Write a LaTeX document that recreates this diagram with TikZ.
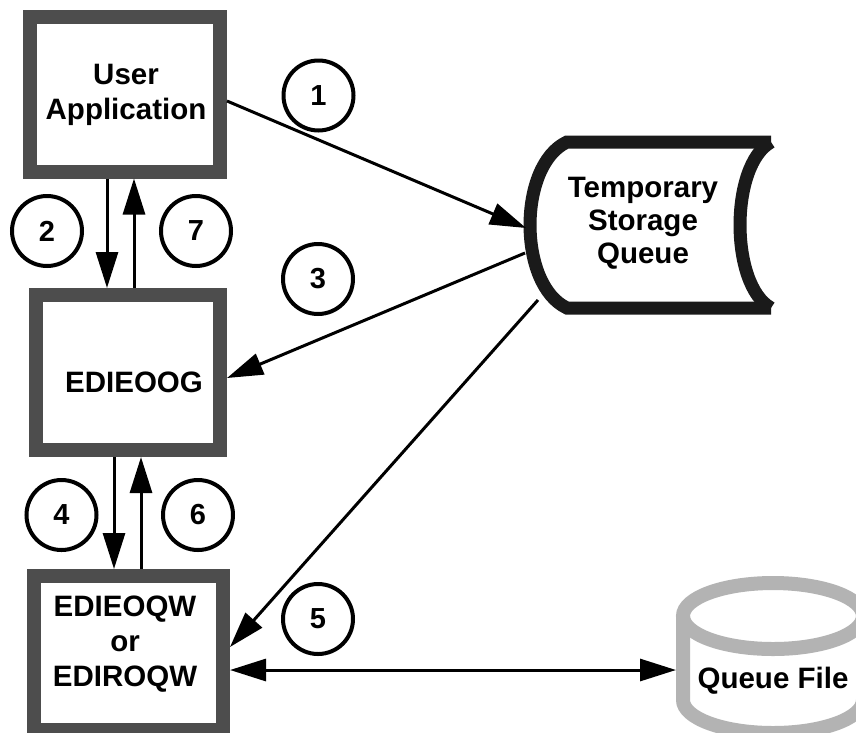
\documentclass[tikz,border=0pt]{standalone}
\usepackage{fontspec}
\setmainfont{Liberation Sans}
\usetikzlibrary{arrows.meta,calc}
\definecolor{boxgray}{HTML}{4D4D4D}
\definecolor{tsqblack}{HTML}{1A1A1A}
\definecolor{cylgray}{HTML}{B3B3B3}
\begin{document}
\begin{tikzpicture}[x=1pt,y=-1pt,
  proc/.style={draw=boxgray,line width=14pt,fill=white,inner sep=0pt},
  lbl/.style={font=\fontsize{29.5}{35}\selectfont\bfseries,align=center,inner sep=0pt},
  num/.style={circle,draw=black,line width=4pt,minimum size=70pt,inner sep=0pt,font=\fontsize{29}{32}\selectfont\bfseries},
  arr/.style={line width=3pt,-{Triangle[length=36pt,width=22pt]}},
  darr/.style={line width=3pt,{Triangle[length=36pt,width=22pt]}-{Triangle[length=36pt,width=22pt]}}
]
\useasboundingbox (0,0) rectangle (856,732);
\fill[white] (0,0) rectangle (856,732);
\begin{scope}
\clip (0,0) rectangle (856,732);
% process boxes
\node[proc,minimum width=190pt,minimum height=154.5pt] (ua) at (125,94.25) {};
\node[lbl] (uat) at (126,95) {User\\Application};
\node[proc,minimum width=184pt,minimum height=155pt] (eog) at (128,372.5) {};
\node[lbl] (eogt) at (134,382) {EDIEOOG};
\node[proc,minimum width=189.5pt,minimum height=154pt] (eqw) at (128.25,653) {};
\node[lbl] (eqwt) at (125,644) {EDIEOQW\\or\\EDIROQW};
% temporary storage queue
\draw[tsqblack,line width=13pt,fill=white] (771,142) -- (567,142) .. controls (517.7,165) and (517.7,285) .. (567,308) -- (771,308);
\draw[tsqblack,line width=13pt] (771,142) .. controls (729.7,165) and (729.7,285) .. (771,308);
\node[lbl,font=\fontsize{29.5}{33}\selectfont\bfseries] (tsq) at (643,223) {Temporary\\Storage\\Queue};
\coordinate (tsqin) at (526,228);
\coordinate (tsqout3) at (525,253);
\coordinate (tsqout5) at (538,300);
% queue file cylinder
\draw[cylgray,line width=14pt,fill=white] (683,616) -- (683,700) arc[start angle=180,end angle=0,x radius=90,y radius=33] -- (863,616);
\draw[cylgray,line width=14pt] (773,616) ellipse [x radius=90,y radius=33];
\node[lbl] (qf) at (773,681) {Queue File};
\coordinate (qfin) at (676,670);
% numbered circles
\node[num] (n1) at (318.5,95.5) {1};
\node[num] (n2) at (47,231) {2};
\node[num] (n7) at (196,231) {7};
\node[num] (n3) at (318,279) {3};
\node[num] (n4) at (61.5,515) {4};
\node[num] (n6) at (198,515) {6};
\node[num] (n5) at (318,619) {5};
% connectors
\draw[arr] (ua.east |- 0,101) -- (tsqin);
\draw[arr] (tsqout3) -- (eog.east |- 0,378);
\draw[arr] (tsqout5) -- (eqw.east |- 0,647);
\draw[darr] (eqw.east |- 0,670) -- (qfin);
\draw[arr] (107,0 |- ua.south) -- (107,0 |- eog.north);
\draw[arr] (134,0 |- eog.north) -- (134,0 |- ua.south);
\draw[arr] (114,0 |- eog.south) -- (114,0 |- eqw.north);
\draw[arr] (141,0 |- eqw.north) -- (141,0 |- eog.south);
\end{scope}
\end{tikzpicture}
\end{document}
